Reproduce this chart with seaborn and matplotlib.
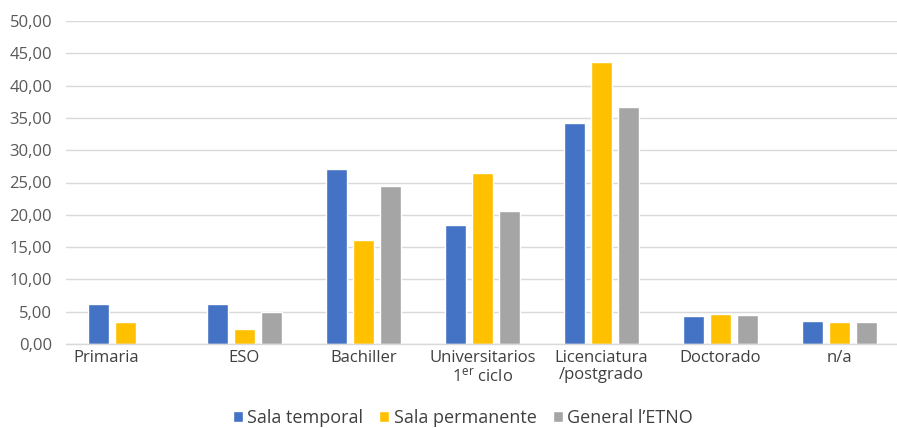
import matplotlib
matplotlib.use("Agg")
import matplotlib.pyplot as plt
import matplotlib.transforms as mtransforms
from matplotlib.ticker import FuncFormatter, MultipleLocator
import seaborn as sns
import pandas as pd

# Nivel de estudios de los visitantes (%)
categories = ["Primaria", "ESO", "Bachiller", "Universitarios\n1$^{\\mathrm{er}}$ ciclo",
              "Licenciatura\n/postgrado", "Doctorado", "n/a"]
series_names = ["Sala temporal", "Sala permanente", "General l\u2019ETNO"]
sala_temporal = [6.14, 6.14, 27.1, 18.4, 34.2, 4.38, 3.5]
sala_permanente = [3.45, 2.32, 16.1, 26.5, 43.65, 4.6, 3.4]
general_etno = [0.0, 5.0, 24.45, 20.6, 36.7, 4.49, 3.4]
colors = ["#4472C4", "#FFC000", "#A5A5A5"]

rows = []
for name, vals in zip(series_names, [sala_temporal, sala_permanente, general_etno]):
    for cat, v in zip(categories, vals):
        rows.append({"Nivel": cat, "Serie": name, "Valor": v})
df = pd.DataFrame(rows)

sns.set_theme(style="white")
plt.rcParams["font.family"] = ["Open Sans", "DejaVu Sans"]
plt.rcParams["mathtext.fontset"] = "custom"
plt.rcParams["mathtext.rm"] = "Open Sans"
plt.rcParams["mathtext.it"] = "Open Sans:italic"

fig = plt.figure(figsize=(8.97, 4.28), dpi=100)
ax = fig.add_axes([66 / 897, 1 - 344 / 428, 833 / 897, 323 / 428])

sns.barplot(data=df, x="Nivel", y="Valor", hue="Serie", palette=colors,
            order=categories, hue_order=series_names, width=0.68, gap=0.22,
            saturation=1, ax=ax, legend=True)

ax.set_ylim(0, 50)
ax.set_xlim(-0.5, len(categories) - 0.5)
ax.yaxis.set_major_locator(MultipleLocator(5))
ax.yaxis.set_major_formatter(FuncFormatter(lambda v, p: f"{v:.2f}".replace(".", ",")))
ax.grid(axis="y", color="#D9D9D9", linewidth=1.0)
ax.set_axisbelow(True)
for s in ["top", "right", "left"]:
    ax.spines[s].set_visible(False)
ax.spines["bottom"].set_color("#D9D9D9")
ax.spines["bottom"].set_linewidth(1.0)
ax.set_xlabel("")
ax.set_ylabel("")
ax.tick_params(axis="y", length=0, labelsize=12, labelcolor="#595959", pad=10)
ax.tick_params(axis="x", length=0, labelsize=12, labelcolor="#404040", pad=4)
for lab in ax.get_xticklabels():
    lab.set_linespacing(1.1)

# Primaria label sits a bit to the left of its group
first = ax.get_xticklabels()[0]
first.set_transform(first.get_transform() +
                    mtransforms.ScaledTranslation(-0.19, 0, fig.dpi_scale_trans))

ax.get_legend().remove()
handles, labels = ax.get_legend_handles_labels()
fig.legend(handles, labels, loc="center", bbox_to_anchor=(463 / 897, 1 - 418 / 428),
           ncol=3, frameon=False, fontsize=13, handlelength=0.55, handleheight=0.55,
           handletextpad=0.25, columnspacing=0.9, labelcolor="#404040")

fig.savefig("out.png", dpi=100)
